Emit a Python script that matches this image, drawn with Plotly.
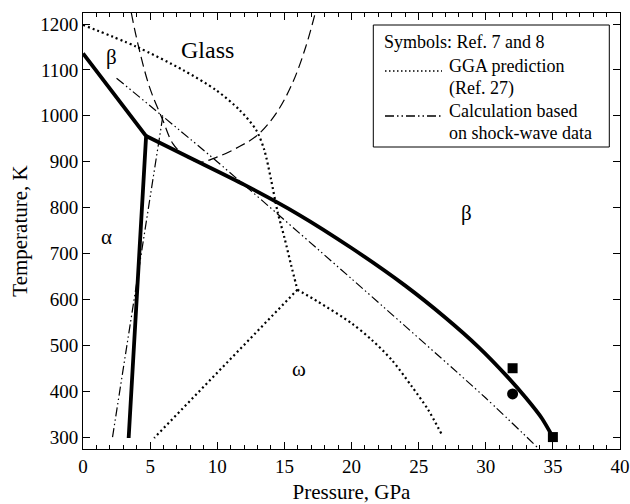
import plotly.graph_objects as go

# ---- data (P in GPa, T in K) ----
beta_alpha_P = [0.0, 4.7, 3.4]
beta_alpha_T = [1136, 956, 298]
beta_omega_P = [4.7, 8.0, 12.0, 16.0, 20.0, 24.0, 27.0, 29.5, 31.5, 33.0, 34.2, 35.0]
beta_omega_T = [956, 908, 850, 786, 712, 630, 560, 495, 435, 385, 340, 300]

glass_P = [3.6, 4.08, 4.95, 5.94, 6.68, 7.5, 8.6, 9.9, 11.65, 13.0, 14.4, 15.6, 16.6, 17.3]
glass_T = [1224, 1158, 1063, 991, 940, 915, 899, 909, 933, 958, 1006, 1071, 1151, 1224]

gga_top_P = [0.0, 3.95, 7.43, 9.91, 11.65, 12.9, 13.5, 14.0, 14.5, 15.0, 15.5, 15.97]
gga_top_T = [1198, 1151, 1100, 1056, 1013, 969, 926, 862, 790, 735, 675, 621]
gga_wa_P = [15.97, 5.3]
gga_wa_T = [621, 298]
gga_wb_P = [15.97, 17.5, 20.0, 21.5, 23.0, 24.5, 25.7, 26.7]
gga_wb_T = [621, 595, 548, 512, 468, 410, 360, 307]

shock_b_P = [2.5, 10.0, 20.0, 30.0, 33.9]
shock_b_T = [1082, 900, 645, 385, 276]
shock_a_P = [2.2, 5.94]
shock_a_T = [300, 998]

sq_P = [32.0, 35.0]
sq_T = [450, 300]
circ_P = [32.0]
circ_T = [394]

x_ticks = [0, 5, 10, 15, 20, 25, 30, 35, 40]
y_ticks = [300, 400, 500, 600, 700, 800, 900, 1000, 1100, 1200]

FONT = "Liberation Serif"
DOT = "2px,3px"
DDOT = "9px,3px,1.5px,3px,1.5px,3px"

fig = go.Figure()

def line(x, y, width, dash="solid", shape="linear", smooth=1.0):
    ln = dict(color="black", width=width, dash=dash, shape=shape)
    if shape == "spline":
        ln["smoothing"] = smooth
    fig.add_trace(go.Scatter(x=x, y=y, mode="lines", showlegend=False,
                             line=ln, hoverinfo="skip"))

line(glass_P, glass_T, 1.2, "10px,5px", "spline")
line(gga_top_P, gga_top_T, 2.2, DOT, "spline", 0.8)
line(gga_wa_P, gga_wa_T, 2.2, DOT)
line(gga_wb_P, gga_wb_T, 2.2, DOT, "spline", 0.8)
line(shock_b_P, shock_b_T, 1.2, DDOT, "spline", 0.6)
line(shock_a_P, shock_a_T, 1.2, DDOT)
line(beta_alpha_P, beta_alpha_T, 3.8)
line(beta_omega_P, beta_omega_T, 3.8, "solid", "spline", 0.6)

fig.add_trace(go.Scatter(x=sq_P, y=sq_T, mode="markers", showlegend=False,
                         marker=dict(symbol="square", size=10, color="black")))
fig.add_trace(go.Scatter(x=circ_P, y=circ_T, mode="markers", showlegend=False,
                         marker=dict(symbol="circle", size=11, color="black")))

# region labels
for txt, x, y, s in [("Glass", 9.3, 1143, 24), ("β", 2.1, 1129, 21), ("α", 1.75, 737, 21),
                     ("β", 28.6, 788, 21), ("ω", 16.1, 448, 21)]:
    fig.add_annotation(x=x, y=y, text=txt, showarrow=False,
                       font=dict(family=FONT, size=s, color="black"))

# custom legend (pixel -> paper)
L, R, T, B = 83.0, 620.0, 13.0, 449.0
def px(x): return (x - L) / (R - L)
def py(y): return (B - y) / (B - T)

fig.add_shape(type="rect", xref="paper", yref="paper", x0=px(373.3), x1=px(609.3),
              y0=py(147), y1=py(25), line=dict(color="black", width=1), fillcolor="white")
fig.add_shape(type="line", xref="paper", yref="paper", x0=px(385), x1=px(442),
              y0=py(71), y1=py(71), line=dict(color="black", width=1.5, dash="1.5px,2.5px"))
fig.add_shape(type="line", xref="paper", yref="paper", x0=px(385), x1=px(442),
              y0=py(116), y1=py(116), line=dict(color="black", width=1.5, dash=DDOT))
for txt, x, y in [("Symbols: Ref. 7 and 8", 382, 42), ("GGA prediction", 447, 66),
                  ("(Ref. 27)", 447, 89), ("Calculation based", 447, 111),
                  ("on shock-wave data", 447, 133)]:
    fig.add_annotation(xref="paper", yref="paper", x=px(x), y=py(y), text=txt,
                       showarrow=False, xanchor="left", yanchor="middle",
                       font=dict(family=FONT, size=18, color="black"))

axis_common = dict(showline=True, linecolor="black", linewidth=1, mirror="ticks",
                   ticks="inside", tickcolor="black", showgrid=False, zeroline=False,
                   automargin=False,
                   tickfont=dict(family=FONT, size=19, color="black"))

fig.update_xaxes(range=[0, 40], tickvals=x_ticks, ticklen=7,
                 minor=dict(dtick=1, ticks="inside", ticklen=4, tickcolor="black", showgrid=False),
                 title=dict(text="Pressure, GPa", font=dict(family=FONT, size=21, color="black"), standoff=8),
                 **axis_common)
fig.update_yaxes(range=[274, 1224], tickvals=y_ticks, ticklen=7,
                 title=dict(text="Temperature, K", font=dict(family=FONT, size=21, color="black"), standoff=6),
                 **axis_common)

fig.update_layout(width=630, height=504, margin=dict(l=83, r=10, t=13, b=55),
                  plot_bgcolor="white", paper_bgcolor="white",
                  font=dict(family=FONT, color="black"))

fig.write_html("out.html")
